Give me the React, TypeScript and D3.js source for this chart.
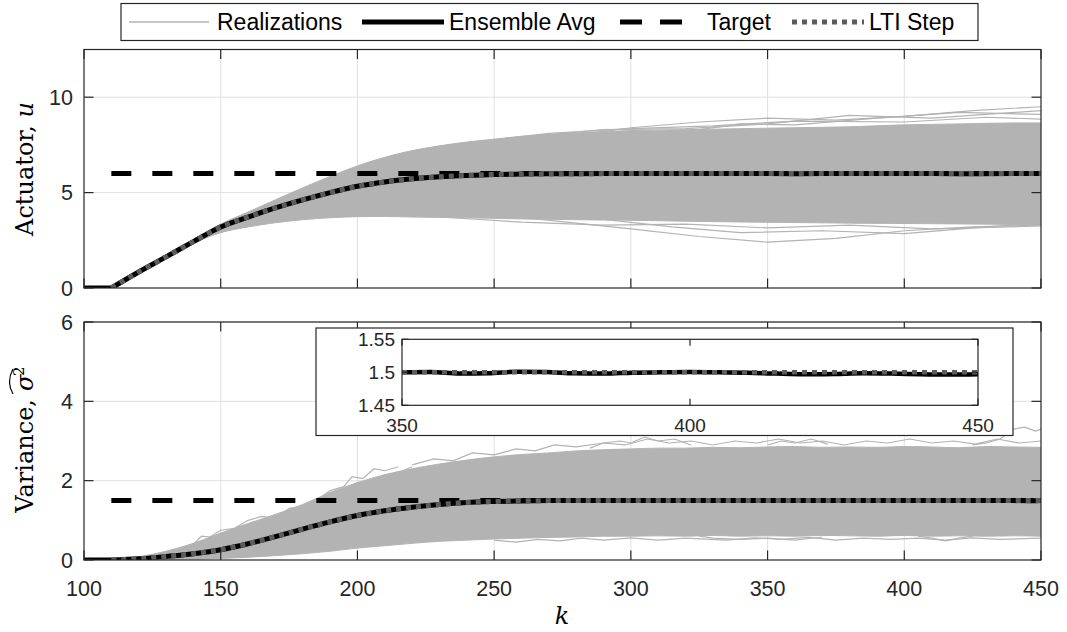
import React from "react";
import * as d3 from "d3";

type Pt = [number, number];

// ---- ticks and legend text ----
const kTicks = [100, 150, 200, 250, 300, 350, 400, 450];
const uTicks = [0, 5, 10];
const varTicks = [0, 2, 4, 6];
const zoomKTicks = [350, 400, 450];
const zoomVarTicks = [1.45, 1.5, 1.55];
const legendLabels = ["Realizations", "Ensemble Avg", "Target", "LTI Step"];

// ---- set points ----
const uTarget = 6;
const varTarget = 1.5;
const stepK = 110;

// ---- actuator panel ----
const actK = [100, 110, 120, 130, 140, 150, 160, 170, 180, 190, 200, 210, 220, 230, 240, 250, 260, 270, 280, 290, 300, 320, 340, 360, 380, 400, 420, 440, 450];
const actAvg = [0, 0, 0.84, 1.63, 2.43, 3.2, 3.72, 4.2, 4.62, 5.0, 5.33, 5.56, 5.72, 5.83, 5.9, 5.95, 5.97, 5.985, 5.99, 6.0, 6.0, 6.0, 6.0, 5.99, 6.0, 6.0, 5.99, 6.0, 6.0];
const actLti = [0, 0, 0.84, 1.63, 2.43, 3.2, 3.72, 4.2, 4.62, 5.0, 5.33, 5.56, 5.72, 5.83, 5.9, 5.95, 5.97, 5.985, 5.99, 5.995, 6.0, 6.0, 6.0, 6.0, 6.0, 6.0, 6.0, 6.0, 6.0];
const actHi = [0, 0, 0.86, 1.68, 2.52, 3.35, 3.98, 4.62, 5.25, 5.85, 6.4, 6.85, 7.2, 7.45, 7.65, 7.8, 7.95, 8.05, 8.12, 8.2, 8.25, 8.3, 8.35, 8.4, 8.45, 8.55, 8.6, 8.65, 8.65];
const actLo = [0, 0, 0.82, 1.58, 2.34, 2.9, 3.2, 3.42, 3.58, 3.68, 3.74, 3.75, 3.72, 3.7, 3.68, 3.65, 3.62, 3.6, 3.58, 3.56, 3.55, 3.5, 3.46, 3.43, 3.4, 3.38, 3.36, 3.33, 3.3];
const actStray: Pt[][] = [
  [[280, 8.0], [300, 8.4], [325, 8.7], [350, 8.9], [375, 8.8], [400, 9.0], [425, 9.3], [450, 9.5]],
  [[320, 8.2], [340, 8.6], [360, 8.55], [390, 8.9], [420, 9.2], [450, 9.1]],
  [[260, 7.9], [290, 8.3], [320, 8.35], [350, 8.6], [380, 9.05], [410, 8.9], [450, 9.3]],
  [[240, 7.6], [270, 8.1], [300, 8.35], [330, 8.5], [360, 8.75], [400, 8.7], [430, 8.95], [450, 8.85]],
  [[260, 3.7], [280, 3.4], [300, 3.1], [325, 2.7], [350, 2.4], [375, 2.6], [400, 3.0], [425, 3.2], [450, 3.3]],
  [[290, 3.6], [315, 3.2], [340, 2.9], [370, 3.0], [400, 2.85], [430, 3.2], [450, 3.4]],
  [[230, 3.72], [260, 3.45], [290, 3.3], [320, 3.35], [350, 3.15], [380, 3.3], [410, 3.1], [450, 3.25]],
];

// ---- variance panel ----
const varK = [100, 110, 120, 130, 140, 150, 160, 170, 180, 190, 200, 210, 220, 230, 240, 250, 260, 270, 280, 290, 300, 310, 320, 330, 340, 350, 360, 370, 380, 390, 400, 410, 420, 430, 440, 450];
const varHi = [0, 0, 0.08, 0.22, 0.42, 0.68, 0.92, 1.15, 1.4, 1.7, 1.95, 2.15, 2.3, 2.42, 2.52, 2.6, 2.66, 2.7, 2.75, 2.78, 2.8, 2.82, 2.82, 2.84, 2.83, 2.85, 2.86, 2.84, 2.85, 2.84, 2.86, 2.85, 2.83, 2.86, 2.85, 2.84];
const varLo = [0, 0, 0, 0.01, 0.02, 0.04, 0.07, 0.11, 0.16, 0.22, 0.3, 0.36, 0.42, 0.47, 0.5, 0.53, 0.55, 0.57, 0.58, 0.6, 0.6, 0.61, 0.6, 0.62, 0.6, 0.61, 0.6, 0.62, 0.61, 0.6, 0.62, 0.6, 0.61, 0.6, 0.61, 0.6];
const varAvg: Pt[] = [
  [100, 0], [110, 0], [120, 0.03], [130, 0.09], [140, 0.16], [150, 0.26], [160, 0.41], [170, 0.59], [180, 0.78], [190, 0.96],
  [200, 1.12], [210, 1.24], [220, 1.33], [230, 1.4], [240, 1.45], [250, 1.475], [260, 1.49], [270, 1.497], [280, 1.5], [290, 1.5],
  [300, 1.501], [310, 1.5], [320, 1.499], [330, 1.5], [340, 1.5],
  [350, 1.5], [355, 1.5005], [360, 1.498], [365, 1.4985], [370, 1.501], [375, 1.5005], [380, 1.4985], [385, 1.498], [390, 1.4995],
  [395, 1.5], [400, 1.5005], [405, 1.5], [410, 1.4995], [415, 1.498], [420, 1.497], [425, 1.4975], [430, 1.4985], [435, 1.498],
  [440, 1.497], [445, 1.4965], [450, 1.497],
];
const varLti: Pt[] = [
  [110, 0], [120, 0.03], [130, 0.09], [140, 0.16], [150, 0.26], [160, 0.41], [170, 0.59], [180, 0.78], [190, 0.96],
  [200, 1.12], [210, 1.24], [220, 1.33], [230, 1.4], [240, 1.45], [250, 1.475], [260, 1.49], [270, 1.497], [280, 1.5], [450, 1.5],
];
const varStray: Pt[][] = [
  [[165, 0.9], [170, 1.0], [175, 1.08], [180, 1.3], [183, 1.25], [187, 1.6], [190, 1.75], [195, 1.85], [198, 2.1], [202, 2.05], [206, 2.3], [210, 2.25], [215, 2.35]],
  [[140, 0.4], [143, 0.6], [146, 0.58], [150, 0.75], [155, 0.8], [160, 1.0]],
  [[160, 1.0], [165, 1.1], [170, 1.05], [175, 1.3], [180, 1.35], [185, 1.5], [190, 1.7], [195, 1.75], [200, 1.95], [205, 2.0], [210, 2.15], [215, 2.2], [220, 2.35]],
  [[220, 2.4], [228, 2.55], [235, 2.5], [242, 2.7], [250, 2.65], [258, 2.8], [265, 2.75], [272, 2.9], [280, 2.85], [290, 2.95], [298, 2.9], [306, 3.05], [314, 2.95], [322, 3.0], [330, 2.9], [338, 3.0], [346, 2.95], [354, 3.05], [362, 2.95], [370, 3.0], [378, 2.9], [386, 3.0], [394, 2.95], [402, 3.05], [410, 2.95], [418, 3.0], [426, 2.92], [434, 3.05], [442, 2.95], [450, 3.0]],
  [[285, 2.82], [290, 2.95], [296, 3.0], [300, 2.95], [305, 3.1], [310, 3.0], [316, 3.05], [322, 2.9]],
  [[350, 2.9], [355, 3.0], [360, 2.95], [366, 3.05], [372, 2.92]],
  [[425, 2.9], [430, 2.95], [435, 3.05], [440, 3.3], [444, 3.35], [448, 3.25], [450, 3.3]],
  [[250, 0.5], [258, 0.45], [266, 0.52], [274, 0.48], [282, 0.55], [290, 0.5], [300, 0.56], [310, 0.5], [320, 0.55], [335, 0.5], [345, 0.56], [355, 0.52], [365, 0.57], [375, 0.5], [385, 0.55], [395, 0.52], [405, 0.55], [415, 0.5], [425, 0.56], [435, 0.52], [450, 0.55]],
  [[325, 0.6], [330, 0.55], [340, 0.52], [350, 0.55], [360, 0.5], [370, 0.58]],
  [[405, 0.6], [410, 0.55], [415, 0.48], [420, 0.55], [425, 0.6]],
];

// ---- styling ----
const W = 1067;
const H = 632;
const AX = "#262626";
const GRID = "#e0e0e0";
const REAL = "#b3b3b3";
const LTI = "#5c5c5c";
const SANS = "'Liberation Sans', Arial, Helvetica, sans-serif";
const SERIF = "'DejaVu Serif', 'Liberation Serif', serif";

const x = d3.scaleLinear().domain([100, 450]).range([84, 1041]);
const yU = d3.scaleLinear().domain([0, 12.5]).range([288, 49.5]);
const yV = d3.scaleLinear().domain([0, 6]).range([560, 322]);
const xZ = d3.scaleLinear().domain([350, 450]).range([402, 978]);
const yZ = d3.scaleLinear().domain([1.45, 1.55]).range([405.3, 339.3]);

const zip = (ks: number[], vs: number[]): Pt[] => ks.map((k, i) => [k, vs[i]]);

function Panel(props: {
  y: d3.ScaleLinear<number, number>;
  ticks: number[];
  id: string;
  k: number[];
  hi: number[];
  lo: number[];
  stray: Pt[][];
  avg: Pt[];
  lti: Pt[];
  target: number;
}) {
  const { y, ticks, id, k, hi, lo, stray, avg, lti, target } = props;
  const [x0, x1] = x.range();
  const [yb, yt] = y.range();
  const smooth = d3.line<Pt>().x((d) => x(d[0])).y((d) => y(d[1])).curve(d3.curveMonotoneX);
  const straight = d3.line<Pt>().x((d) => x(d[0])).y((d) => y(d[1]));
  const band = d3
    .area<number>()
    .x((_, i) => x(k[i]))
    .y0((_, i) => y(lo[i]))
    .y1((_, i) => y(hi[i]))
    .curve(d3.curveMonotoneX);
  // the response is flat before the step, then rises from a sharp corner
  const avgPath =
    (straight(avg.filter((d) => d[0] <= stepK)) || "") + (smooth(avg.filter((d) => d[0] >= stepK)) || "");
  const ltiPath = smooth(lti.filter((d) => d[0] >= stepK)) || "";
  const tl = 9.5;
  return (
    <g>
      <defs>
        <clipPath id={id}>
          <rect x={x0} y={yt} width={x1 - x0} height={yb - yt} />
        </clipPath>
      </defs>
      <rect x={x0} y={yt} width={x1 - x0} height={yb - yt} fill="#fff" />
      {kTicks.slice(1, -1).map((t) => (
        <line key={"gx" + t} x1={x(t)} x2={x(t)} y1={yt} y2={yb} stroke={GRID} strokeWidth={1} />
      ))}
      {ticks.slice(1).map((t) => (
        <line key={"gy" + t} x1={x0} x2={x1} y1={y(t)} y2={y(t)} stroke={GRID} strokeWidth={1} />
      ))}
      <g clipPath={`url(#${id})`}>
        <path d={band(k) || ""} fill={REAL} stroke={REAL} strokeWidth={1} />
        {stray.map((s, i) => (
          <path key={i} d={straight(s) || ""} fill="none" stroke={REAL} strokeWidth={1.2} />
        ))}
        <path
          d={straight([[stepK, target], [450, target]]) || ""}
          fill="none"
          stroke="#000"
          strokeWidth={5}
          strokeDasharray="20 21"
        />
        <path d={avgPath} fill="none" stroke="#000" strokeWidth={5} strokeLinejoin="round" />
        <path d={ltiPath} fill="none" stroke={LTI} strokeWidth={5} strokeDasharray="5 5" />
      </g>
      <rect x={x0} y={yt} width={x1 - x0} height={yb - yt} fill="none" stroke={AX} strokeWidth={1.2} />
      {kTicks.map((t) => (
        <g key={"tx" + t}>
          <line x1={x(t)} x2={x(t)} y1={yb} y2={yb - tl} stroke={AX} strokeWidth={1.2} />
          <line x1={x(t)} x2={x(t)} y1={yt} y2={yt + tl} stroke={AX} strokeWidth={1.2} />
        </g>
      ))}
      {ticks.map((t) => (
        <g key={"ty" + t}>
          <line x1={x0} x2={x0 + tl} y1={y(t)} y2={y(t)} stroke={AX} strokeWidth={1.2} />
          <line x1={x1} x2={x1 - tl} y1={y(t)} y2={y(t)} stroke={AX} strokeWidth={1.2} />
          <text x={x0 - 11} y={y(t)} dy="0.36em" textAnchor="end" fontFamily={SANS} fontSize={21.5} fill={AX}>
            {t}
          </text>
        </g>
      ))}
    </g>
  );
}

function Inset() {
  const line = d3.line<Pt>().x((d) => xZ(d[0])).y((d) => yZ(d[1])).curve(d3.curveMonotoneX);
  const inside = varAvg.filter((d) => d[0] >= 350);
  const [x0, x1] = xZ.range();
  const [yb, yt] = yZ.range();
  const tl = 6.5;
  return (
    <g>
      <rect x={316} y={328} width={697} height={107.5} fill="#fff" stroke={AX} strokeWidth={1.2} />
      <defs>
        <clipPath id="zoomclip">
          <rect x={x0} y={yt} width={x1 - x0} height={yb - yt} />
        </clipPath>
      </defs>
      <g clipPath="url(#zoomclip)">
        <path d={line(inside) || ""} fill="none" stroke="#000" strokeWidth={4.5} />
        <path d={line([[350, varTarget], [450, varTarget]]) || ""} fill="none" stroke={LTI} strokeWidth={4.5} strokeDasharray="5 5" />
      </g>
      <rect x={x0} y={yt} width={x1 - x0} height={yb - yt} fill="none" stroke={AX} strokeWidth={1.2} />
      {zoomKTicks.map((t) => (
        <g key={"zx" + t}>
          <line x1={xZ(t)} x2={xZ(t)} y1={yb} y2={yb - tl} stroke={AX} strokeWidth={1.2} />
          <line x1={xZ(t)} x2={xZ(t)} y1={yt} y2={yt + tl} stroke={AX} strokeWidth={1.2} />
          <text x={xZ(t)} y={431.5} textAnchor="middle" fontFamily={SANS} fontSize={19} fill={AX}>
            {t}
          </text>
        </g>
      ))}
      {zoomVarTicks.map((t) => (
        <g key={"zy" + t}>
          <line x1={x0} x2={x0 + tl} y1={yZ(t)} y2={yZ(t)} stroke={AX} strokeWidth={1.2} />
          <line x1={x1} x2={x1 - tl} y1={yZ(t)} y2={yZ(t)} stroke={AX} strokeWidth={1.2} />
          <text x={x0 - 7} y={yZ(t)} dy="0.36em" textAnchor="end" fontFamily={SANS} fontSize={19} fill={AX}>
            {t}
          </text>
        </g>
      ))}
    </g>
  );
}

function Legend() {
  const cy = 22;
  return (
    <g fontFamily={SANS} fontSize={23} fill="#000">
      <rect x={121} y={3.5} width={857} height={37} fill="#fff" stroke={AX} strokeWidth={1.2} />
      <line x1={129} x2={209} y1={cy} y2={cy} stroke={REAL} strokeWidth={1.5} />
      <text x={217} y={cy} dy="0.36em">{legendLabels[0]}</text>
      <line x1={362} x2={444} y1={cy} y2={cy} stroke="#000" strokeWidth={5} />
      <text x={449} y={cy} dy="0.36em">{legendLabels[1]}</text>
      <line x1={620} x2={696} y1={cy} y2={cy} stroke="#000" strokeWidth={5} strokeDasharray="22 18" />
      <text x={707} y={cy} dy="0.36em">{legendLabels[2]}</text>
      <line x1={792} x2={864} y1={cy} y2={cy} stroke={LTI} strokeWidth={5} strokeDasharray="5 5" />
      <text x={869} y={cy} dy="0.36em">{legendLabels[3]}</text>
    </g>
  );
}

export default function App() {
  return (
    <svg
      width={W}
      height={H}
      viewBox={`0 0 ${W} ${H}`}
      style={{ position: "absolute", left: 0, top: 0, background: "#fff" }}
    >
      <rect width={W} height={H} fill="#fff" />
      <Panel
        y={yU}
        ticks={uTicks}
        id="clipU"
        k={actK}
        hi={actHi}
        lo={actLo}
        stray={actStray}
        avg={zip(actK, actAvg)}
        lti={zip(actK, actLti)}
        target={uTarget}
      />
      <Panel
        y={yV}
        ticks={varTicks}
        id="clipV"
        k={varK}
        hi={varHi}
        lo={varLo}
        stray={varStray}
        avg={varAvg}
        lti={varLti}
        target={varTarget}
      />
      <Inset />
      {kTicks.map((t) => (
        <text key={"xl" + t} x={x(t)} y={596} textAnchor="middle" fontFamily={SANS} fontSize={21.5} fill={AX}>
          {t}
        </text>
      ))}
      <text x={562} y={624} textAnchor="middle" fontFamily={SERIF} fontStyle="italic" fontSize={24} fill="#000">
        k
      </text>
      <g transform="translate(33,169) rotate(-90)" fontFamily={SERIF} fontSize={24} fill="#000">
        <text x={0} y={0} textAnchor="middle">
          Actuator, <tspan fontStyle="italic">u</tspan>
        </text>
      </g>
      <g transform="translate(33,441) rotate(-90)" fontFamily={SERIF} fontSize={24} fill="#000">
        <text x={42} y={0} textAnchor="end">Variance,</text>
        <text x={50} y={0} fontStyle="italic">σ</text>
        <text x={65} y={-9} fontSize={15}>2</text>
        <path d="M47,-20 Q59,-27 72,-20" fill="none" stroke="#000" strokeWidth={1.2} />
      </g>
      <Legend />
    </svg>
  );
}
